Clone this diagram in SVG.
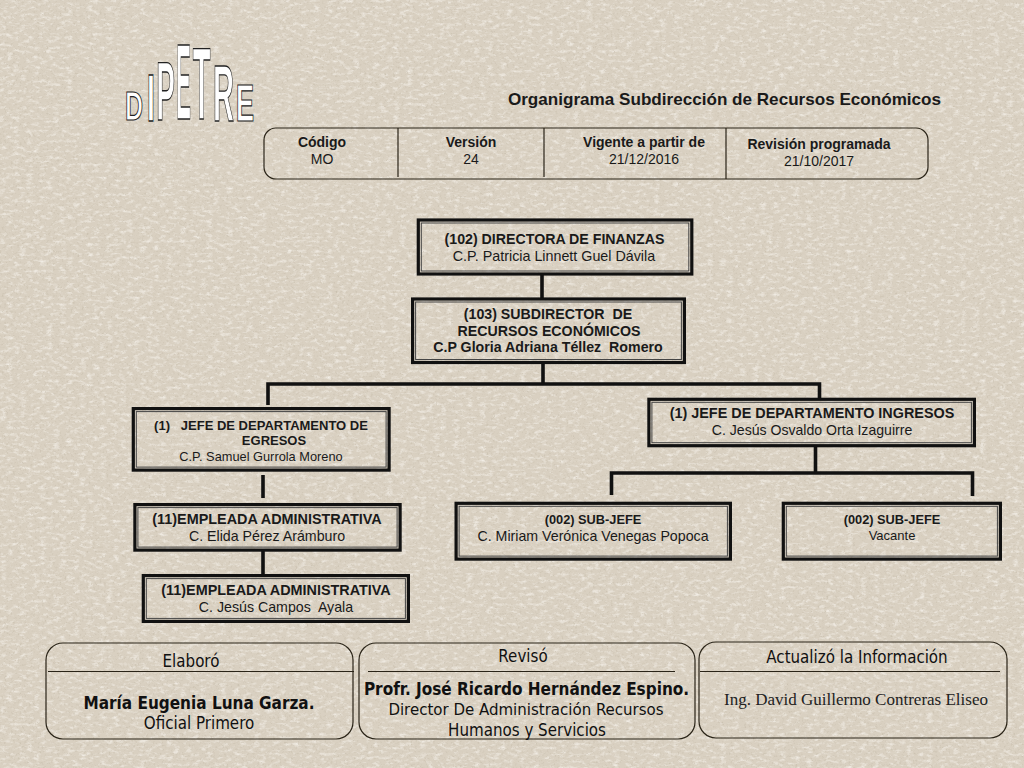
<svg xmlns="http://www.w3.org/2000/svg" width="1024" height="768" viewBox="0 0 1024 768">
<style>
.a{font-family:"Liberation Sans",Arial,sans-serif;fill:#1a1a1a;text-anchor:middle;white-space:pre}
.b{font-weight:700}
.t{font-family:"DejaVu Sans Condensed","DejaVu Sans",sans-serif;fill:#111;text-anchor:middle}
.o{fill:none;stroke:#111;stroke-width:3.2}
.i{fill:none;stroke:#444;stroke-width:1}
.c{fill:none;stroke:#111;stroke-width:3.6}
.r{fill:none;stroke:#2a2418;stroke-width:1.2}
.w{font-family:"Liberation Sans",Arial,sans-serif;font-weight:700;font-size:20px;fill:#fff;stroke:#222;stroke-width:1;vector-effect:non-scaling-stroke;text-anchor:middle}
</style>
<defs>
<filter id="paper" x="0" y="0" width="100%" height="100%">
<feTurbulence type="fractalNoise" baseFrequency="0.45" numOctaves="3" seed="7"/>
<feColorMatrix values="0 0 0 0 0.58  0 0 0 0 0.52  0 0 0 0 0.42  2.2 0 0 0 -1.2"/>
</filter>
<filter id="light" x="0" y="0" width="100%" height="100%">
<feTurbulence type="fractalNoise" baseFrequency="0.15 0.3" numOctaves="3" seed="21"/>
<feColorMatrix values="0 0 0 0 0.93  0 0 0 0 0.9  0 0 0 0 0.85  0 1.8 0 0 -0.85"/>
</filter>
</defs>
<rect width="1024" height="768" fill="#d9d0c1"/>
<rect width="1024" height="768" filter="url(#light)"/>
<rect width="1024" height="768" filter="url(#paper)"/>
<g id="logo">
<text class="w" transform="translate(134,120) scale(1.25,2.03)">D</text>
<text class="w" transform="translate(151,121) scale(1.5,3.33)">I</text>
<text class="w" transform="translate(165.500,120) scale(1.4,4.13)">P</text>
<text class="w" transform="translate(183.500,119) scale(1.1,5.36)">E</text>
<text class="w" transform="translate(201.500,119) scale(1.45,5.07)">T</text>
<text class="w" transform="translate(223.500,121) scale(1.45,3.98)">R</text>
<text class="w" transform="translate(245,121) scale(1.38,2.6)">E</text>
</g>
<g id="title"><text class="a b" x="724.500" y="105" font-size="17.100">Organigrama Subdirección de Recursos Económicos</text></g>
<g id="info">
<rect class="r" x="264" y="128" width="664" height="51" rx="12"/>
<path class="r" d="M398 128V177M544 128V177M726 128V179"/>
<text class="a b" x="322" y="147" font-size="14">Código</text><text class="a" x="322" y="164" font-size="14">MO</text>
<text class="a b" x="471" y="147" font-size="14">Versión</text><text class="a" x="471" y="164" font-size="14">24</text>
<text class="a b" x="644" y="147" font-size="14">Vigente a partir de</text><text class="a" x="644" y="164" font-size="14">21/12/2016</text>
<text class="a b" x="819" y="149" font-size="14">Revisión programada</text><text class="a" x="819" y="166" font-size="14">21/10/2017</text>
</g>
<g id="connectors">
<path class="c" d="M542 275V298M543 364V384M268 405V384H819.500V398M263 475V498M263 551V575M815.500 447V472M611.500 495V473H972.500V496"/>
</g>
<g id="n102"><rect class="o" x="418.300" y="220" width="273.500" height="54"/><rect class="i" x="421.300" y="223" width="267.500" height="48"/>
<text class="a b" x="554.500" y="244" font-size="14.200">(102) DIRECTORA DE FINANZAS</text><text class="a" x="554" y="261" font-size="14.300">C.P. Patricia Linnett Guel Dávila</text></g>
<g id="n103"><rect class="o" x="412.600" y="299" width="271.800" height="63.500"/><rect class="i" x="415.600" y="302" width="265.800" height="57.500"/>
<text class="a b" x="548" y="319" font-size="14.200">(103) SUBDIRECTOR  DE</text><text class="a b" x="549" y="336" font-size="14.200">RECURSOS ECONÓMICOS</text><text class="a b" x="548" y="352" font-size="14.200">C.P Gloria Adriana Téllez  Romero</text></g>
<g id="egresos"><rect class="o" x="133.300" y="408.600" width="255.800" height="61.500"/><rect class="i" x="136.300" y="411.600" width="249.800" height="55.500"/>
<text class="a b" x="261" y="430" font-size="13">(1)   JEFE DE DEPARTAMENTO DE</text><text class="a b" x="274" y="445" font-size="13">EGRESOS</text><text class="a" x="261" y="461" font-size="12.800">C.P. Samuel Gurrola Moreno</text></g>
<g id="ingresos"><rect class="o" x="648.900" y="399.300" width="325.500" height="46.400"/><rect class="i" x="651.900" y="402.300" width="319.500" height="40.400"/>
<text class="a b" x="812" y="418" font-size="14.400">(1) JEFE DE DEPARTAMENTO INGRESOS</text><text class="a" x="812" y="435" font-size="14.100">C. Jesús Osvaldo Orta Izaguirre</text></g>
<g id="emp1"><rect class="o" x="134.900" y="504.600" width="265.200" height="45.500"/><rect class="i" x="137.900" y="507.600" width="259.200" height="39.500"/>
<text class="a b" x="267" y="524" font-size="14.400">(11)EMPLEADA ADMINISTRATIVA</text><text class="a" x="267" y="541" font-size="14.200">C. Elida Pérez Arámburo</text></g>
<g id="emp2"><rect class="o" x="143.300" y="575.600" width="265.100" height="45.800"/><rect class="i" x="146.300" y="578.600" width="259.100" height="39.800"/>
<text class="a b" x="276" y="595" font-size="14.400">(11)EMPLEADA ADMINISTRATIVA</text><text class="a" x="276" y="612" font-size="14.200">C. Jesús Campos  Ayala</text></g>
<g id="sub1"><rect class="o" x="456.100" y="503.300" width="274.300" height="55.800"/><rect class="i" x="459.100" y="506.300" width="268.300" height="49.800"/>
<text class="a b" x="593" y="524" font-size="12.800">(002) SUB-JEFE</text><text class="a" x="593" y="541" font-size="14.200">C. Miriam Verónica Venegas Popoca</text></g>
<g id="sub2"><rect class="o" x="783.300" y="503.300" width="217.100" height="55.800"/><rect class="i" x="786.300" y="506.300" width="211.100" height="49.800"/>
<text class="a b" x="892" y="524" font-size="12.800">(002) SUB-JEFE</text><text class="a" x="892" y="540" font-size="13">Vacante</text></g>
<g id="elaboro"><rect class="r" x="46" y="643" width="307" height="96" rx="17"/><path class="r" d="M48 671.500H354"/>
<text class="t" x="191" y="667" font-size="16.800">Elaboró</text><text class="t" x="199" y="709" font-size="17" font-weight="700">María Eugenia Luna Garza.</text><text class="t" x="199" y="729" font-size="16.800">Oficial Primero</text></g>
<g id="reviso"><rect class="r" x="359" y="643" width="336" height="96" rx="17"/><path class="r" d="M368 671.500H675"/>
<text class="t" x="523" y="662" font-size="16.800">Revisó</text><text class="t" x="526.500" y="695" font-size="17" font-weight="700">Profr. José Ricardo Hernández Espino.</text><text class="t" x="526" y="715" font-size="16.700">Director De Administración Recursos</text><text class="t" x="527" y="736" font-size="16.800">Humanos y Servicios</text></g>
<g id="actualizo"><rect class="r" x="699" y="642" width="308" height="96" rx="17"/><path class="r" d="M700 671.500H1000"/>
<text class="t" x="857" y="663" font-size="16.800">Actualizó la Información</text><text x="856" y="705" font-size="17" text-anchor="middle" fill="#222" font-family="'Liberation Serif',serif">Ing. David Guillermo Contreras Eliseo</text></g>
</svg>
